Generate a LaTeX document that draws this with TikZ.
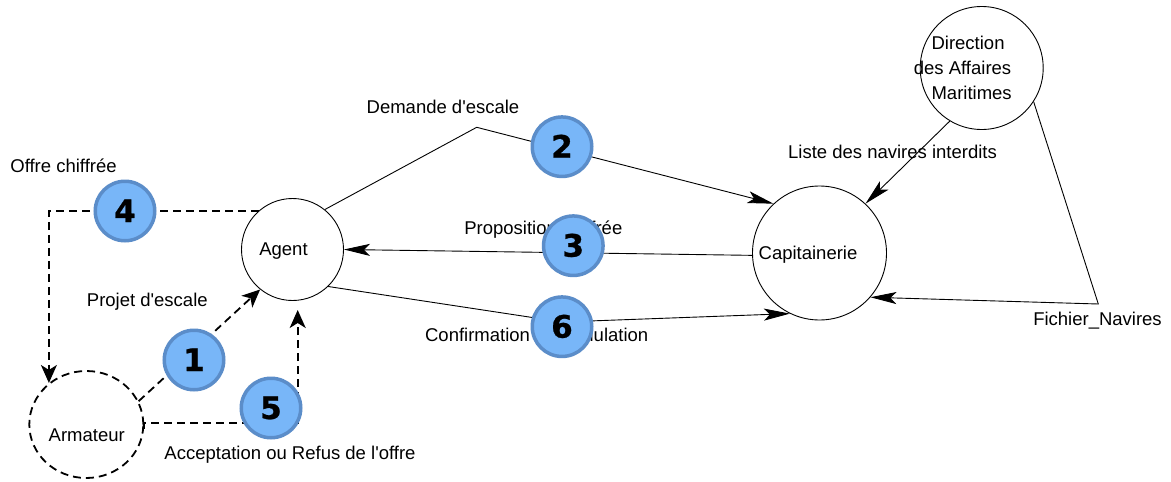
\documentclass[tikz,border=0pt]{standalone}
\usepackage{fontspec}
\setmainfont{Liberation Sans}[Ligatures=TeXOff]
\newfontfamily\numfont{DejaVu Sans}[BoldFeatures={FakeBold=0.8}]
\usetikzlibrary{arrows.meta,shapes.geometric}
\definecolor{badgefill}{HTML}{78B6F8}
\definecolor{badgeline}{HTML}{5B8DC9}
\begin{document}
\begin{tikzpicture}[x=1pt,y=-1pt,
  proc/.style={circle,draw=black,line width=0.9pt,inner sep=0pt},
  txt/.style={inner sep=0pt,text height=13.2pt,text depth=0pt,font=\fontsize{18.5}{22}\selectfont},
  solidarr/.style={line width=0.9pt,-{Stealth[length=26pt,width=12pt,inset=6pt]}},
  dasharr/.style={line width=1.8pt,dash pattern=on 8pt off 5pt,-{Stealth[length=18pt,width=16pt,inset=5pt]}},
  badge/.style={circle,fill=badgefill,draw=badgeline,line width=3.5pt,minimum size=59.5pt,inner sep=0pt,
    text height=22pt,text depth=0pt,font=\numfont\bfseries\fontsize{31}{31}\selectfont}
]
\useasboundingbox (0,0) rectangle (1171,482);
\fill[white] (0,0) rectangle (1171,482);

% processes
\node[proc,minimum size=102pt] (agent) at (292.5,249.5) {};
\node[proc,minimum size=134pt] (cap) at (819.5,253) {};
\node[proc,minimum size=123pt] (dam) at (981.7,68) {};
\node[ellipse,draw=black,line width=1.8pt,dash pattern=on 8pt off 5pt,inner sep=0pt,
      minimum width=114pt,minimum height=107pt] (arm) at (86.3,424.5) {};

\node[txt] (agentlbl) at (283.5,249) {Agent};
\node[txt] (caplbl) at (808,253) {Capitainerie};
\node[txt] (armlbl) at (86.7,435) {Armateur};
\node[inner sep=0pt,align=left,font=\fontsize{18.5}{25}\selectfont] (damlbl) at (962.8,68)
  {\hspace*{17.7pt}Direction\\des Affaires\\\hspace*{17.7pt}Maritimes};

% bend points
\coordinate (demBend) at (476.7,127.3);
\coordinate (confBend) at (562,322);
\coordinate (fichBend) at (1098.3,304);
\coordinate (accBend) at (297.7,422.7);
\coordinate (accEnd) at (297.7,310);

% solid flows
\draw[solidarr] (agent.51) -- (demBend) -- (cap.133.5);
\draw[solidarr] (cap.182.5) -- (agent.0);
\draw[solidarr] (agent.-46) -- (confBend) -- (cap.244);
\draw[solidarr] (dam.239) -- (cap.47);
\draw[solidarr] (dam.-33.6) -- (fichBend) -- (cap.-41.3);

% dashed flows
\draw[dasharr] (agent.131) -| (arm.132);
\draw[dasharr] (arm.24) -- (agent.231);
\draw[dasharr] (arm.-4) |- (accBend) -- (accEnd);

% flow labels
\node[txt] (l4) at (63.5,165.7) {Offre chiffrée};
\node[txt] (l1) at (147.3,300) {Projet d'escale};
\node[txt] (l5) at (290,453.3) {Acceptation ou Refus de l'offre};
\node[txt] (l2) at (443,107.3) {Demande d'escale};
\node[txt] (l3) at (543.3,228.3) {Proposition chiffrée};
\node[txt] (l6) at (536.7,335) {Confirmation ou Annulation};
\node[txt] (l7) at (892.5,151.7) {Liste des navires interdits};
\node[txt] (l8) at (1097.5,319.3) {Fichier\_Navires};

% badges
\node[badge] (b1) at (194,360) {1};
\node[badge] (b2) at (562,146.7) {2};
\node[badge] (b3) at (573.3,245.7) {3};
\node[badge] (b4) at (125,211) {4};
\node[badge] (b5) at (271,408) {5};
\node[badge] (b6) at (562,326.7) {6};
\end{tikzpicture}
\end{document}
